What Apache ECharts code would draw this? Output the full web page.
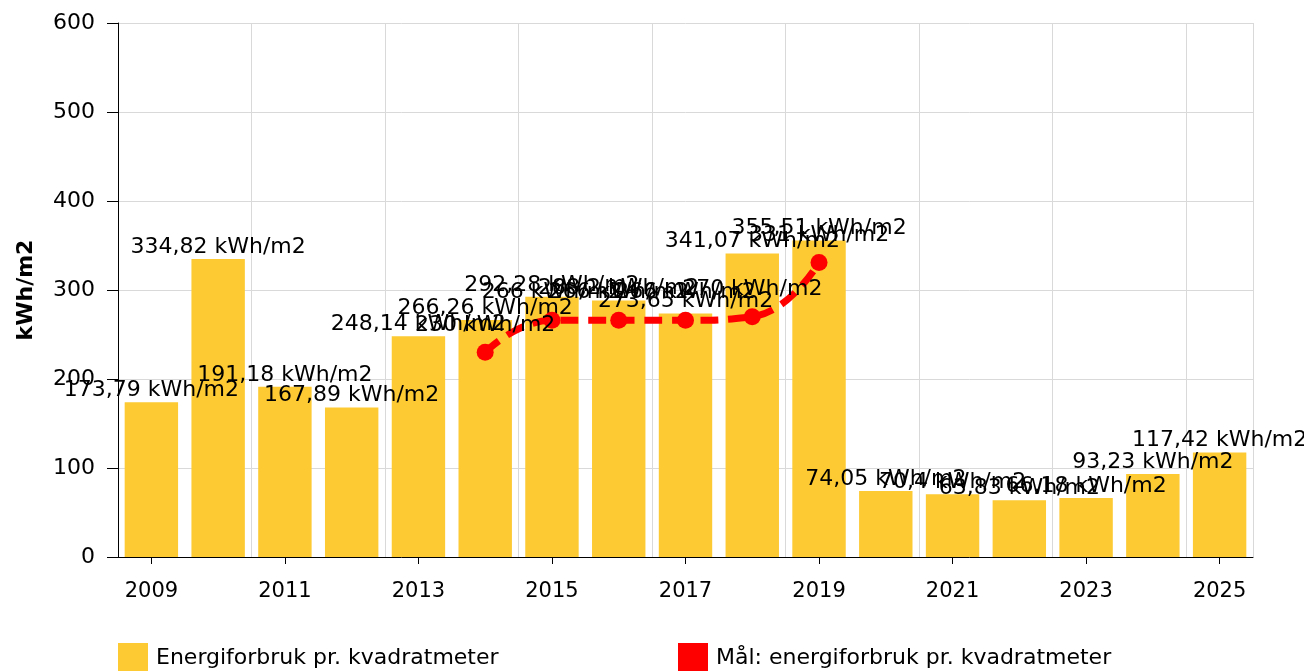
<!DOCTYPE html>
<html>
<head>
<meta charset="utf-8">
<script src="https://cdn.jsdelivr.net/npm/echarts@6/dist/echarts.min.js"></script>
<style>
    html, body { margin: 0; padding: 0; background: #fff; }
    #chart { width: 1304px; height: 671px; }
</style>
</head>
<body>
<div id="chart"></div>
<script>
    // år og verdier
    const years = ["2009", "2010", "2011", "2012", "2013", "2014", "2015", "2016", "2017",
        "2018", "2019", "2020", "2021", "2022", "2023", "2024", "2025"];
    const forbruk = [173.79, 334.82, 191.18, 167.89, 248.14, 266.26, 292.28, 288.2, 273.65,
        341.07, 355.51, 74.05, 70.4, 63.83, 66.18, 93.23, 117.42];
    const maal = [null, null, null, null, null, 230, 266, 266, 266, 270, 331,
        null, null, null, null, null, null];
    const yTicks = [0, 100, 200, 300, 400, 500, 600];

    const fmt = v => String(v).replace(".", ",") + " kWh/m2";
    const font = "DejaVu Sans";

    const myChart = echarts.init(document.getElementById("chart"));

    const option = {
        animation: false,
        textStyle: { fontFamily: font },
        grid: { left: 118, right: 51, top: 23, bottom: 114 },
        legend: [
            {
                left: 118, top: 643, padding: 0, itemWidth: 30, itemHeight: 30,
                icon: "rect",
                data: ["Energiforbruk pr. kvadratmeter"],
                textStyle: { fontSize: 22, color: "#000", fontFamily: font, padding: [0, 0, 0, 3] }
            },
            {
                left: 678, top: 643, padding: 0, itemWidth: 30, itemHeight: 30,
                icon: "rect",
                data: ["Mål: energiforbruk pr. kvadratmeter"],
                textStyle: { fontSize: 22, color: "#000", fontFamily: font, padding: [0, 0, 0, 3] }
            }
        ],
        xAxis: {
            type: "category",
            data: years,
            axisLine: { lineStyle: { color: "#000", width: 1 } },
            axisTick: { show: true, interval: 1, alignWithLabel: true, length: 7, lineStyle: { color: "#000" } },
            axisLabel: { interval: 1, color: "#000", fontSize: 21, margin: 24, fontFamily: font },
            splitLine: { show: true, interval: 1, lineStyle: { color: "#d9d9d9", width: 1 } }
        },
        yAxis: {
            type: "value",
            min: yTicks[0],
            max: yTicks[yTicks.length - 1],
            interval: 100,
            name: "kWh/m2",
            nameLocation: "middle",
            nameGap: 81,
            nameRotate: 90,
            nameTextStyle: { fontSize: 22, fontWeight: "bold", color: "#000", fontFamily: font },
            axisLine: { show: true, lineStyle: { color: "#000", width: 1 } },
            axisTick: { show: true, length: 11, lineStyle: { color: "#000" } },
            axisLabel: { color: "#000", fontSize: 22, margin: 23, fontFamily: font },
            splitLine: { lineStyle: { color: "#d9d9d9", width: 1 } }
        },
        series: [
            {
                name: "Energiforbruk pr. kvadratmeter",
                type: "bar",
                data: forbruk,
                barCategoryGap: "20%",
                itemStyle: { color: "#fdca33" },
                label: {
                    show: true, position: "top", distance: 1,
                    color: "#000", fontSize: 22, fontFamily: font,
                    formatter: p => fmt(p.value)
                }
            },
            {
                name: "Mål: energiforbruk pr. kvadratmeter",
                type: "line",
                data: maal,
                smooth: true,
                symbol: "circle",
                symbolSize: 17,
                itemStyle: { color: "#ff0000" },
                lineStyle: { color: "#ff0000", width: 7, type: [18, 10] },
                z: 3,
                label: {
                    show: true, position: "top", distance: 8,
                    color: "#000", fontSize: 22, fontFamily: font,
                    formatter: p => fmt(p.value)
                }
            }
        ]
    };

    myChart.setOption(option);
</script>
</body>
</html>
